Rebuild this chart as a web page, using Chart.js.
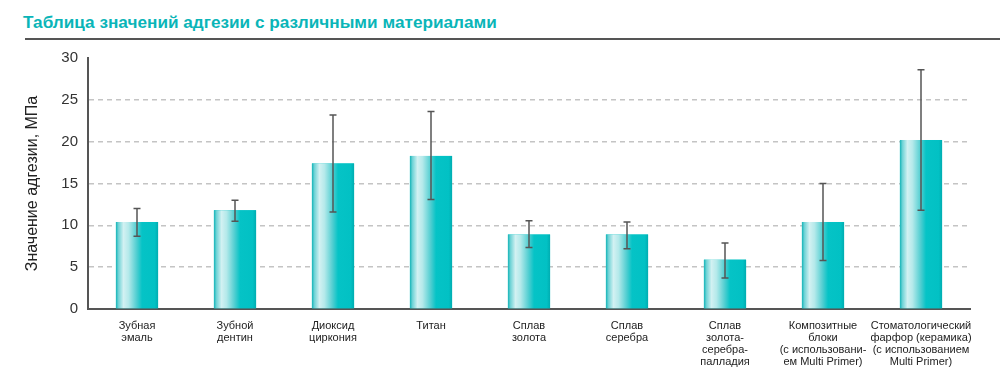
<!DOCTYPE html>
<html>
<head>
<meta charset="utf-8">
<script src="https://cdn.jsdelivr.net/npm/chart.js@4/dist/chart.umd.min.js"></script>
<style>
  html, body { margin: 0; padding: 0; background: #fff; }
  #wrap { position: relative; width: 1000px; height: 377px; overflow: hidden; }
  #title { position: absolute; left: 23px; top: 12px; font: bold 17.2px "Liberation Sans", Arial, sans-serif; color: #0ab5b8; white-space: nowrap; }
  #rule { position: absolute; left: 25px; top: 38px; width: 975px; height: 2px; background: #555; }
  #chart { position: absolute; left: 0; top: 0; }
</style>
</head>
<body>
<div id="wrap">
  <div id="title">Таблица значений адгезии с различными материалами</div>
  <div id="rule"></div>
  <canvas id="chart" width="1000" height="377"></canvas>
</div>
<script>
var categories = [
  ['Зубная', 'эмаль'],
  ['Зубной', 'дентин'],
  ['Диоксид', 'циркония'],
  ['Титан'],
  ['Сплав', 'золота'],
  ['Сплав', 'серебра'],
  ['Сплав', 'золота-', 'серебра-', 'палладия'],
  ['Композитные', 'блоки', '(с использовани-', 'ем Multi Primer)'],
  ['Стоматологический', 'фарфор (керамика)', '(с использованием', 'Multi Primer)']
];
var values  = [10.4, 11.8, 17.4, 18.3, 8.9, 8.9, 5.9, 10.4, 20.2];
var errLow  = [8.7, 10.5, 11.6, 13.1, 7.35, 7.2, 3.7, 5.8, 11.8];
var errHigh = [12.0, 13.0, 23.2, 23.6, 10.55, 10.4, 7.9, 15.0, 28.6];
var yTicks  = [0, 5, 10, 15, 20, 25, 30];

// shiny gradient on each bar + error bars on top
var barDecor = {
  id: 'barDecor',
  afterDatasetsDraw: function (chart) {
    var ctx = chart.ctx;
    var yScale = chart.scales.y;
    var meta = chart.getDatasetMeta(0);
    meta.data.forEach(function (el, i) {
      var p = el.getProps(['x', 'y', 'base', 'width'], true);
      var left = p.x - p.width / 2;
      var g = ctx.createLinearGradient(left, 0, left + p.width, 0);
      g.addColorStop(0, '#14b4b8');
      g.addColorStop(0.06, '#6fd3d6');
      g.addColorStop(0.18, '#d2f1f2');
      g.addColorStop(0.3, '#b4e9ea');
      g.addColorStop(0.5, '#4ccdd0');
      g.addColorStop(0.62, '#05c3c6');
      g.addColorStop(0.92, '#02c1c4');
      g.addColorStop(1, '#00adb1');
      ctx.save();
      ctx.fillStyle = g;
      ctx.fillRect(left, p.y, p.width, p.base - p.y);
      ctx.restore();

      var yHi = yScale.getPixelForValue(errHigh[i]);
      var yLo = yScale.getPixelForValue(errLow[i]);
      ctx.save();
      ctx.strokeStyle = '#555';
      ctx.lineWidth = 1.5;
      ctx.beginPath();
      ctx.moveTo(p.x, yHi); ctx.lineTo(p.x, yLo);
      ctx.moveTo(p.x - 3.5, yHi); ctx.lineTo(p.x + 3.5, yHi);
      ctx.moveTo(p.x - 3.5, yLo); ctx.lineTo(p.x + 3.5, yLo);
      ctx.stroke();
      ctx.restore();
    });
  }
};

new Chart(document.getElementById('chart'), {
  type: 'bar',
  data: {
    labels: categories,
    datasets: [{
      data: values,
      backgroundColor: '#02c1c4',
      borderWidth: 0,
      categoryPercentage: 1,
      barPercentage: 0.43
    }]
  },
  plugins: [barDecor],
  options: {
    responsive: false,
    animation: false,
    layout: { padding: { left: 23, top: 58, right: 30, bottom: 0 } },
    plugins: { legend: { display: false }, tooltip: { enabled: false } },
    scales: {
      x: {
        afterFit: function (s) { s.height = 68; },
        grid: { display: false, drawTicks: false },
        border: { display: true, color: '#555', width: 2 },
        ticks: {
          autoSkip: false, maxRotation: 0, minRotation: 0, padding: 11,
          color: '#222',
          font: { family: 'Liberation Sans', size: 11, lineHeight: 1.1 }
        }
      },
      y: {
        min: 0, max: 30,
        afterFit: function (s) { s.width = 65; },
        afterBuildTicks: function (s) { s.ticks = yTicks.map(function (v) { return { value: v }; }); },
        grid: {
          drawTicks: false,
          lineWidth: 1.5,
          color: function (c) { return (c.tick && (c.tick.value === 0 || c.tick.value === 30)) ? 'rgba(0,0,0,0)' : '#c4c4c4'; }
        },
        border: { display: true, color: '#555', width: 2, dash: [5, 4] },
        ticks: {
          padding: 10, color: '#333',
          font: { family: 'Liberation Sans', size: 15 }
        },
        title: {
          display: true, text: 'Значение адгезии, МПа', color: '#222',
          padding: 0,
          font: { family: 'Liberation Sans', size: 16 }
        }
      }
    }
  }
});
</script>
</body>
</html>
